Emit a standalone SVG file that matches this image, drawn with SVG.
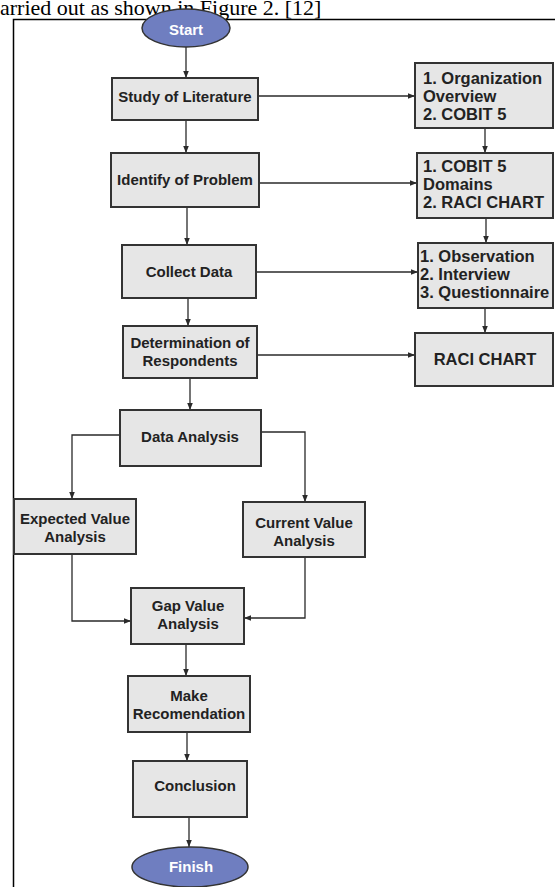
<svg xmlns="http://www.w3.org/2000/svg" width="555" height="887" viewBox="0 0 555 887">
<defs>
<marker id="ah" viewBox="0 0 10 10" refX="10" refY="5" markerWidth="7" markerHeight="7" markerUnits="userSpaceOnUse" orient="auto">
<path d="M0,1 L10,5 L0,9 z" fill="#2a2a2a"/>
</marker>
<style>
.box{fill:#e6e6e6;stroke:#333;stroke-width:2}
.oval{fill:#6f7ec0;stroke:#333;stroke-width:1.5}
.t{font-family:"Liberation Sans",Arial,sans-serif;font-weight:bold;font-size:15px;fill:#222}
.r{font-size:16.5px}
.c{text-anchor:middle}
.w{fill:#fff}
.cn path{fill:none;stroke:#2a2a2a;stroke-width:1.3;marker-end:url(#ah)}
.cap{font-family:"Liberation Serif","Times New Roman",serif;font-size:22px;fill:#000}
</style>
</defs>
<rect x="0" y="0" width="555" height="887" fill="#fff"/>
<text class="cap" x="0" y="15">arried out as shown in Figure 2. [12]</text>
<path d="M13.5,887 V19.5 H555" fill="none" stroke="#000" stroke-width="1.5"/>

<g id="connectors" class="cn">
<path d="M186,47 V78"/>
<path d="M186,120 V153"/>
<path d="M187,207 V245"/>
<path d="M188,298 V326"/>
<path d="M190,378 V410"/>
<path d="M258,96 H415"/>
<path d="M259,183 H417"/>
<path d="M256,272 H418"/>
<path d="M257,355 H415"/>
<path d="M485,128 V153"/>
<path d="M486,218 V243"/>
<path d="M485,308 V333"/>
<path d="M120,435 H72 V499"/>
<path d="M261,432 H305 V502"/>
<path d="M72,554 V621 H131"/>
<path d="M305,557 V618 H244"/>
<path d="M186,644 V676"/>
<path d="M187,732 V761"/>
<path d="M189,817 V847"/>
</g>

<g id="start"><ellipse class="oval" cx="186" cy="28" rx="44" ry="19"/><text class="t c w" x="186" y="35">Start</text></g>
<g id="study"><rect class="box" x="112" y="78" width="146" height="42"/><text class="t c" x="185" y="102">Study of  Literature</text></g>
<g id="identify"><rect class="box" x="111" y="153" width="148" height="54"/><text class="t c" x="185" y="185">Identify of Problem</text></g>
<g id="collect"><rect class="box" x="122" y="245" width="134" height="53"/><text class="t c" x="189" y="277">Collect Data</text></g>
<g id="determination"><rect class="box" x="123" y="326" width="134" height="52"/><text class="t c" x="190" y="348">Determination of</text><text class="t c" x="190" y="366">Respondents</text></g>
<g id="data-analysis"><rect class="box" x="120" y="410" width="141" height="56"/><text class="t c" x="190" y="442">Data Analysis</text></g>
<g id="expected"><rect class="box" x="14" y="499" width="122" height="55"/><text class="t c" x="75" y="524">Expected Value</text><text class="t c" x="75" y="542">Analysis</text></g>
<g id="current"><rect class="box" x="243" y="502" width="122" height="55"/><text class="t c" x="304" y="528">Current Value</text><text class="t c" x="304" y="546">Analysis</text></g>
<g id="gap"><rect class="box" x="131" y="588" width="113" height="56"/><text class="t c" x="188" y="611">Gap Value</text><text class="t c" x="188" y="629">Analysis</text></g>
<g id="make"><rect class="box" x="128" y="676" width="122" height="56"/><text class="t c" x="189" y="701">Make</text><text class="t c" x="189" y="719">Recomendation</text></g>
<g id="conclusion"><rect class="box" x="133" y="761" width="114" height="56"/><text class="t c" x="195" y="791">Conclusion</text></g>
<g id="finish"><ellipse class="oval" cx="190" cy="867" rx="58" ry="20"/><text class="t c w" x="191" y="872">Finish</text></g>

<g id="r-overview"><rect class="box" x="415" y="63" width="138" height="65"/><text class="t r" x="423" y="84">1. Organization</text><text class="t r" x="423" y="102">Overview</text><text class="t r" x="423" y="120">2. COBIT 5</text></g>
<g id="r-domains"><rect class="box" x="417" y="153" width="136" height="65"/><text class="t r" x="423" y="172">1. COBIT 5</text><text class="t r" x="423" y="190">Domains</text><text class="t r" x="423" y="208">2. RACI CHART</text></g>
<g id="r-methods"><rect class="box" x="418" y="243" width="135" height="65"/><text class="t r" x="420" y="262">1. Observation</text><text class="t r" x="420" y="280">2. Interview</text><text class="t r" x="420" y="298">3. Questionnaire</text></g>
<g id="r-raci"><rect class="box" x="415" y="333" width="138" height="53"/><text class="t r c" x="485" y="365">RACI CHART</text></g>
</svg>
